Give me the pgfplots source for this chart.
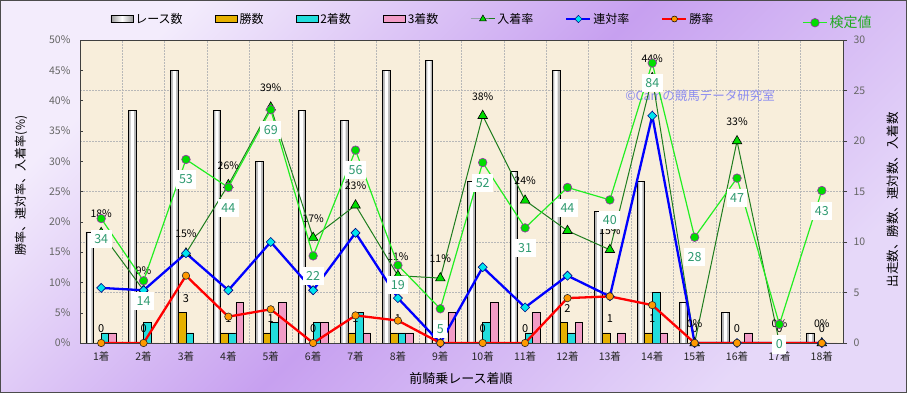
\documentclass[border=0pt]{standalone}
\usepackage{pgfplots}
\pgfplotsset{compat=1.18}
\usepackage{pgfplotstable}
\usepackage{fontspec}
\setmainfont{Noto Sans CJK JP}
\definecolor{bgA}{HTML}{F3ECFC}
\definecolor{bgB}{HTML}{C7A0F0}
\definecolor{bgC}{HTML}{E6D8F9}
\definecolor{plotbg}{HTML}{F8EEDB}
\definecolor{gold}{HTML}{E6B000}
\definecolor{cyanb}{HTML}{22DDDD}
\definecolor{pinkb}{HTML}{F29CC6}
\definecolor{dgreen}{HTML}{1E7D1E}
\definecolor{tgreen}{HTML}{00DD00}
\definecolor{lgreen}{HTML}{22EE22}
\definecolor{kteal}{HTML}{2E9A70}
\definecolor{kgreen}{HTML}{22AA22}
\definecolor{diam}{HTML}{00E5EE}
\definecolor{orng}{HTML}{FF9900}
\definecolor{wmark}{HTML}{8C8CF0}
\definecolor{kpurple}{HTML}{9933AA}
\newcommand\fs[1]{\fontsize{#1}{#1}\selectfont}
\pgfplotsset{
  /pgf/number format/assume math mode=true,
  mybarlegend/.style={legend image code/.code={\draw[##1] (0pt,-3.5pt) rectangle (22pt,3.5pt);}},
  mylinelegend/.style={legend image code/.code={\draw[mark repeat=2,mark phase=2,##1] plot coordinates {(0pt,0pt) (12pt,0pt) (24pt,0pt)};}},
  base/.style={at={(80pt,50pt)}, anchor=south west, width=763pt, height=303pt, scale only axis, xmin=0.5, xmax=18.5},
}
\pgfplotstableread{
x race win sec thr
1 11 0 1 1
2 23 0 2 0
3 27 3 1 0
4 23 1 1 4
5 18 1 2 4
6 23 0 2 2
7 22 1 3 1
8 27 1 1 1
9 28 0 0 3
10 16 0 2 4
11 17 0 1 3
12 27 2 1 2
13 13 1 0 1
14 16 1 5 1
15 4 0 0 0
16 3 0 0 1
17 0 0 0 0
18 1 0 0 0
}\counts
\pgfplotstableread{
x show rentai win lab
1 18.18 9.09 0 18
2 8.70 8.70 0 9
3 14.81 14.81 11.11 15
4 26.09 8.70 4.35 26
5 38.89 16.67 5.56 39
6 17.39 8.70 0 17
7 22.73 18.18 4.55 23
8 11.11 7.41 3.70 11
9 10.71 0 0 11
10 37.50 12.50 0 38
11 23.53 5.88 0 24
12 18.52 11.11 7.41 19
13 15.38 7.69 7.69 15
14 43.75 37.50 6.25 44
15 0 0 0 0
16 33.33 0 0 33
17 0 0 0 0
18 0 0 0 0
}\rates
\pgfplotstableread{
x v
1 34
2 14
3 53
4 44
5 69
6 22
7 56
8 19
9 5
10 52
11 31
12 44
13 40
14 84
15 28
16 47
17 0
18 43
}\kentei
\begin{document}
\begin{tikzpicture}
\useasboundingbox (0,0) rectangle (907pt,393pt);
\shade[top color=bgA, bottom color=bgC, middle color=bgB, shading angle=45] (0,0) rectangle (907pt,393pt);
% ---- counts axis (bars) ----
\begin{axis}[base,
  ymin=0, ymax=30,
  axis background/.style={fill=plotbg},
  axis line style={draw=black!75, line width=0.8pt},
  xtick={1,...,18},
  xticklabels={1着,2着,3着,4着,5着,6着,7着,8着,9着,10着,11着,12着,13着,14着,15着,16着,17着,18着},
  xtick style={draw=none},
  minor xtick={1.5,2.5,...,17.5},
  minor tick length=0pt,
  xminorgrids,
  minor x grid style={dash pattern=on 1.5pt off 1.5pt, draw=black!28, line width=0.6pt},
  ytick={0,5,...,30},
  ymajorgrids,
  major y grid style={dash pattern=on 1.5pt off 1.5pt, draw=black!28, line width=0.6pt},
  ytick pos=right, yticklabel pos=right,
  tick align=outside, major tick length=4pt,
  ytick style={draw=black!75},
  xticklabel style={font=\fs{10.5}, text=black!85, yshift=-1pt},
  yticklabel style={font=\fs{10.5}, text=black!60, xshift=3pt},
  ylabel={出走数、勝数、連対数、入着数},
  every axis y label/.style={at={(axis description cs:1.0655,0.472)}, rotate=90, anchor=center, font=\fs{12.5}},
  xlabel={前騎乗レース着順},
  every axis x label/.style={at={(axis description cs:0.4993,-0.1188)}, anchor=center, font=\fs{13}},
  legend columns=7,
  legend style={at={(axis description cs:0.4364,1.0693)}, anchor=center, draw=none, fill=none, font=\fs{12}, /tikz/every even column/.append style={column sep=30pt}},
]
\addplot[ybar, bar width=7.6pt, bar shift=-11.4pt, fill=black!28, draw=none, forget plot] table[x=x,y=race]{\counts};
\addplot[ybar, bar width=3.2pt, bar shift=-11.4pt, fill=white, draw=none, forget plot] table[x=x,y=race]{\counts};
\addplot[ybar, bar width=7.6pt, bar shift=-11.4pt, fill=none, draw=black, line width=0.7pt, forget plot] table[x=x,y=race]{\counts};
\addplot[ybar, bar width=7.6pt, bar shift=-3.8pt, fill=gold, draw=black, line width=0.7pt, forget plot,
  nodes near coords, every node near coord/.append style={font=\fs{11}, text=black, inner sep=1pt, yshift=9pt}] table[x=x,y=win]{\counts};
\addplot[ybar, bar width=7.6pt, bar shift=3.8pt, fill=cyanb, draw=black, line width=0.7pt, forget plot] table[x=x,y=sec]{\counts};
\addplot[ybar, bar width=7.6pt, bar shift=11.4pt, fill=pinkb, draw=black, line width=0.7pt, forget plot] table[x=x,y=thr]{\counts};
\node[font=\fs{12.5}, text=wmark] at (rel axis cs:0.8126,0.815) {©Camの競馬データ研究室};
\addlegendimage{mybarlegend, draw=black, line width=0.8pt, left color=black!40, right color=black!40, middle color=white}
\addlegendentry{レース数}
\addlegendimage{mybarlegend, draw=black, line width=0.8pt, fill=gold}
\addlegendentry{勝数}
\addlegendimage{mybarlegend, draw=black, line width=0.8pt, fill=cyanb}
\addlegendentry{2着数}
\addlegendimage{mybarlegend, draw=black, line width=0.8pt, fill=pinkb}
\addlegendentry{3着数}
\addlegendimage{mylinelegend, dgreen, line width=1pt, mark=triangle*, mark size=4pt, mark options={fill=tgreen, draw=black, line width=0.5pt}}
\addlegendentry{入着率}
\addlegendimage{mylinelegend, blue, line width=2pt, mark=square*, mark size=2.6pt, mark options={fill=diam, draw=blue!50!black, rotate=45, line width=0.5pt}}
\addlegendentry{連対率}
\addlegendimage{mylinelegend, red, line width=2pt, mark=*, mark size=3pt, mark options={fill=orng, draw=black, line width=0.5pt}}
\addlegendentry{勝率}
\end{axis}
% ---- percentage axis (lines) ----
\begin{axis}[base,
  ymin=0, ymax=50,
  axis x line=none, axis y line*=left,
  axis line style={draw=black!75, line width=0.8pt},
  ytick={0,5,...,50},
  yticklabel={\pgfmathprintnumber{\tick}\%},
  yticklabel style={font=\fs{10.5}, text=black!60, xshift=-6pt},
  tick align=inside, major tick length=3pt,
  ytick style={draw=black!75},
  ylabel={勝率、連対率、入着率(\%)},
  every axis y label/.style={at={(axis description cs:-0.0773,0.52)}, rotate=90, anchor=center, font=\fs{12}},
]
\addplot[dgreen, line width=1pt, mark=triangle*, mark size=5.5pt, mark options={fill=tgreen, draw=black, line width=0.6pt},
  point meta=explicit symbolic, nodes near coords={\pgfplotspointmeta\%},
  every node near coord/.append style={font=\fs{10.5}, text=black, inner sep=1pt, yshift=14pt}]
  table[x=x,y=show,meta=lab]{\rates};
\addplot[blue, line width=2.3pt, mark=square*, mark size=3.2pt, mark options={fill=diam, draw=blue!50!black, rotate=45, line width=0.6pt}]
  table[x=x,y=rentai]{\rates};
\addplot[red, line width=2.3pt, mark=*, mark size=3.7pt, mark options={fill=orng, draw=black!85, line width=0.6pt}]
  table[x=x,y=win]{\rates};
\end{axis}
% ---- kentei axis ----
\begin{axis}[base,
  ymin=-6, ymax=91.4, hide axis,
  legend style={at={(axis description cs:0.9934,1.0571)}, anchor=center, draw=none, fill=none, font=\fs{14}, text=kgreen},
]
\addplot[mylinelegend, lgreen, line width=1.2pt, mark=*, mark size=4.3pt, mark options={fill=tgreen, draw=kpurple, line width=0.6pt},
  nodes near coords,
  every node near coord/.append style={font=\fs{12.5}, text=kteal, fill=white, inner xsep=3.5pt, inner ysep=4.5pt, yshift=-29.5pt}]
  table[x=x,y=v]{\kentei};
\addlegendentry{検定値}
\end{axis}
\draw[black!70, line width=1.2pt] (0.6pt,0.6pt) rectangle (906.4pt,392.4pt);
\end{tikzpicture}
\end{document}
